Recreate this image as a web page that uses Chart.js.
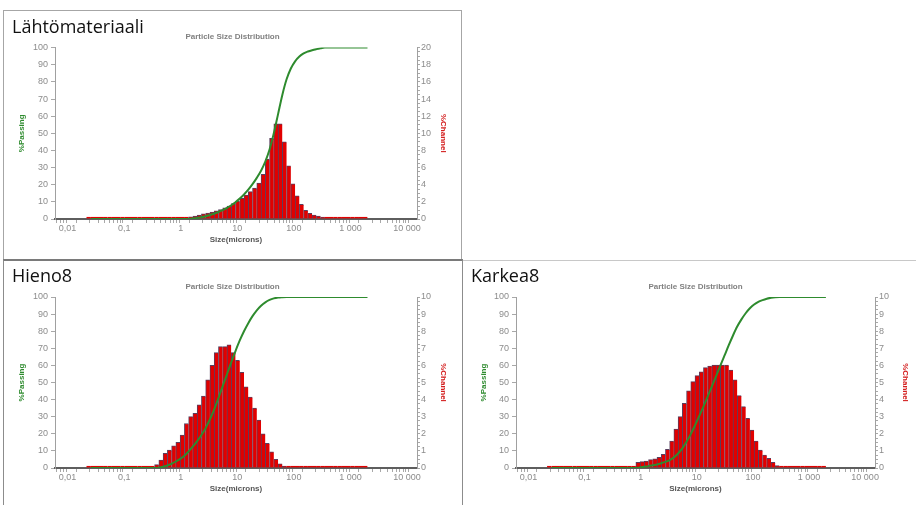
<!DOCTYPE html>
<html>
<head>
<meta charset="utf-8">
<script src="https://cdn.jsdelivr.net/npm/chart.js@4.4.1/dist/chart.umd.min.js"></script>
<style>
  html, body { margin: 0; padding: 0; background: #fff; }
  #page { position: relative; width: 916px; height: 505px; overflow: hidden; }
  .box { position: absolute; box-sizing: border-box; }
  .chart { position: absolute; }
  .name { position: absolute; font-family: 'Open Sans', sans-serif; font-size: 18px; line-height: 18px; color: #111; white-space: nowrap; }
</style>
</head>
<body>
<div id="page">
  <div class="box" style="left:3px;top:10px;width:459px;height:251px;border:1px solid #a6a6a6"></div>
  <div class="box" style="left:3px;top:259px;width:460px;height:252px;border:1px solid #8c8c8c;border-top:2px solid #7a7a7a"></div>
  <div class="box" style="left:463px;top:260px;width:453px;height:1px;background:#c8c8c8"></div>

  <canvas class="chart" id="c1" width="457" height="248" style="left:4px;top:11px"></canvas>
  <canvas class="chart" id="c2" width="457" height="243" style="left:4px;top:262px"></canvas>
  <canvas class="chart" id="c3" width="453" height="243" style="left:463px;top:262px"></canvas>

  <div class="name" style="left:12px;top:17px">Lähtömateriaali</div>
  <div class="name" style="left:12px;top:266px">Hieno8</div>
  <div class="name" style="left:471px;top:266px">Karkea8</div>
</div>
<script>
// channel edges in microns (Microtrac sizes), ascending
const sizeEdges = [0.0216, 0.026, 0.031, 0.036, 0.043, 0.051, 0.061, 0.073, 0.086, 0.103,
    0.122, 0.145, 0.173, 0.205, 0.244, 0.290, 0.345, 0.411, 0.488, 0.581,
    0.691, 0.821, 0.976, 1.161, 1.381, 1.642, 1.953, 2.323, 2.762, 3.285,
    3.906, 4.645, 5.524, 6.570, 7.813, 9.291, 11.05, 13.14, 15.63, 18.58,
    22.10, 26.28, 31.25, 37.16, 44.19, 52.56, 62.50, 74.33, 88.39, 105.1,
    125.0, 148.7, 176.8, 210.2, 250.0, 297.3, 353.6, 420.4, 500.0, 594.6,
    707.1, 840.9, 1000, 1189, 1414, 1682, 2000];

// Lähtömateriaali: first channel starts at 1.381 µm
const lahtoStart = 24;
const lahtoChannel = [0.25, 0.35, 0.45, 0.6, 0.7, 0.8, 0.95, 1.1, 1.3, 1.5,
    1.8, 2.1, 2.4, 2.8, 3.2, 3.6, 4.2, 5.2, 7.0, 9.4,
    11.1, 11.1, 9.0, 6.2, 4.1, 2.7, 1.7, 1.0, 0.65, 0.45, 0.35, 0.2];
const lahtoPassing = [0.3, 0.6, 1.0, 1.6, 2.3, 3.1, 4.1, 5.2, 6.5, 8.0,
    9.8, 11.9, 14.3, 17.1, 20.3, 24.0, 28.2, 33.5, 40.5, 50.0,
    61.2, 72.4, 81.5, 87.8, 92.0, 94.8, 96.6, 97.7, 98.5, 99.1, 99.6, 100];

// Hieno8: first channel starts at 0.345 µm
const hienoStart = 16;
const hienoChannel = [0.2, 0.47, 0.86, 1.05, 1.3, 1.5, 1.93, 2.6, 3.0, 3.2,
    3.7, 4.2, 5.15, 6.0, 6.75, 7.1, 7.1, 7.2, 6.75, 6.3,
    5.6, 4.75, 4.15, 3.5, 2.8, 2.0, 1.45, 0.95, 0.5, 0.25, 0.1];
const hienoPassing = [0.2, 0.7, 1.5, 2.5, 3.8, 5.3, 7.1, 9.7, 12.6, 15.7,
    19.3, 23.4, 28.5, 34.3, 40.9, 47.9, 54.8, 61.8, 68.4, 74.6,
    80.0, 84.7, 88.8, 92.2, 94.9, 96.9, 98.3, 99.2, 99.7, 99.9, 100];

// Karkea8: first channel starts at 0.821 µm
const karkeaStart = 21;
const karkeaChannel = [0.33, 0.37, 0.41, 0.49, 0.53, 0.62, 0.8, 1.09, 1.58, 2.28,
    3.0, 3.78, 4.52, 5.05, 5.4, 5.63, 5.87, 5.96, 6.02, 6.02,
    6.02, 6.02, 5.73, 5.15, 4.23, 3.59, 2.9, 2.22, 1.58, 1.05,
    0.76, 0.57, 0.33, 0.14];
const karkeaPassing = [0.3, 0.7, 1.1, 1.6, 2.1, 2.8, 3.6, 4.6, 6.2, 8.5,
    11.5, 15.3, 19.8, 24.9, 30.3, 35.9, 41.8, 47.7, 53.7, 59.8,
    65.8, 71.8, 77.5, 82.7, 86.9, 90.5, 93.4, 95.6, 97.2, 98.2,
    99.0, 99.6, 99.9, 100];

const xDecades = [0.01, 0.1, 1, 10, 100, 1000, 10000];
const xDecadeLabels = ['0,01', '0,1', '1', '10', '100', '1 000', '10 000'];

const GREEN = '#2e8b2e';
const RED = '#e10000';
const BAR_EDGE = '#5a3f5e';
const TICK_TEXT = '#8c8c8c';

Chart.defaults.font.family = "'Liberation Sans', Arial, sans-serif";

const X_MIN = 0.006;
const X_MAX = 15000;

function xTickValues() {
    const out = [];
    for (let e = -3; e <= 4; e++) {
        for (let m = 1; m <= 9; m++) {
            const v = Number((m * Math.pow(10, e)).toPrecision(6));
            if (v >= X_MIN && v <= X_MAX) out.push({ value: v });
        }
    }
    return out;
}

function makeChart(id, channel, passing, start, y2Max, y2Minor, y2Step, L) {
    const bars = sizeEdges.slice(0, -1).map((lo, i) => {
        const k = i - start;
        return { x: Math.sqrt(lo * sizeEdges[i + 1]), y: (k >= 0 && k < channel.length) ? channel[k] : 0 };
    });
    const line = sizeEdges.slice(1).map((hi, i) => {
        const k = i - start;
        return { x: hi, y: k < 0 ? 0 : (k < passing.length ? passing[k] : 100) };
    });

    const y2Ticks = [];
    for (let v = 0; v <= y2Max + 1e-9; v += y2Minor) y2Ticks.push({ value: Number(v.toFixed(3)) });

    new Chart(document.getElementById(id), {
        type: 'bar',
        data: {
            datasets: [
                {
                    type: 'line',
                    label: '%Passing',
                    data: line,
                    yAxisID: 'y',
                    borderColor: GREEN,
                    borderWidth: 2,
                    pointRadius: 0,
                    cubicInterpolationMode: 'monotone',
                    order: 0,
                },
                {
                    type: 'bar',
                    label: '%Channel',
                    data: bars,
                    yAxisID: 'y2',
                    backgroundColor: RED,
                    borderColor: (c) => (c.raw && c.raw.y > 0 ? BAR_EDGE : RED),
                    borderWidth: { left: 1, top: 1, right: 0, bottom: 0 },
                    minBarLength: 2,
                    barThickness: (c) => {
                        const s = c.chart.scales.x;
                        return (s.getPixelForValue(2000) - s.getPixelForValue(1000)) / 4;
                    },
                    order: 1,
                },
            ],
        },
        options: {
            responsive: false,
            animation: false,
            layout: { padding: { left: 0, right: 0, top: 0, bottom: L.padBottom } },
            plugins: {
                legend: { display: false },
                tooltip: { enabled: false },
                title: {
                    display: true,
                    text: 'Particle Size Distribution',
                    color: '#808080',
                    fullSize: L.titleFull,
                    font: { size: 8, weight: 'bold' },
                    padding: { top: L.titleTop, bottom: L.titleBottom },
                },
            },
            scales: {
                x: {
                    type: 'logarithmic',
                    position: 'bottom',
                    min: X_MIN,
                    max: X_MAX,
                    afterBuildTicks: (s) => { s.ticks = xTickValues(); },
                    afterFit: (s) => { s.height = 30; },
                    ticks: {
                        autoSkip: false,
                        maxRotation: 0,
                        padding: 0,
                        color: TICK_TEXT,
                        font: { size: 9 },
                        callback: (value) => {
                            const i = xDecades.findIndex((d) => Math.abs(d - value) / d < 1e-6);
                            return i >= 0 ? xDecadeLabels[i] : '';
                        },
                    },
                    grid: { drawOnChartArea: false, tickLength: 4, tickColor: '#a8a8a8' },
                    border: { color: '#5e5e5e', width: 2 },
                    title: {
                        display: true,
                        text: 'Size(microns)',
                        color: '#555555',
                        font: { size: 8, weight: 'bold' },
                        padding: { top: 0, bottom: 4 },
                    },
                },
                y: {
                    position: 'left',
                    min: 0,
                    max: 100,
                    afterFit: (s) => { s.width = L.leftW; },
                    ticks: { stepSize: 10, color: TICK_TEXT, font: { size: 9 }, padding: 3 },
                    grid: { drawOnChartArea: false, tickLength: 4, tickColor: '#a8a8a8' },
                    border: { color: '#a0a0a0', width: 1 },
                    title: {
                        display: true,
                        text: '%Passing',
                        color: GREEN,
                        font: { size: 8, weight: 'bold' },
                        padding: { top: L.yTitlePad, bottom: 0 },
                    },
                },
                y2: {
                    position: 'right',
                    min: 0,
                    max: y2Max,
                    afterBuildTicks: (s) => { s.ticks = y2Ticks.map((t) => ({ value: t.value })); },
                    afterFit: (s) => { s.width = L.rightW; },
                    ticks: {
                        autoSkip: false,
                        color: TICK_TEXT,
                        font: { size: 9 },
                        padding: 1,
                        callback: (v) => (Math.abs(v / y2Step - Math.round(v / y2Step)) < 1e-6 ? String(v) : ''),
                    },
                    grid: { drawOnChartArea: false, tickLength: 3, tickColor: '#a8a8a8' },
                    border: { color: '#a0a0a0', width: 1 },
                    title: {
                        display: true,
                        text: '%Channel',
                        color: '#d42020',
                        font: { size: 8, weight: 'bold' },
                        padding: { top: L.y2TitlePad, bottom: 0 },
                    },
                },
            },
        },
    });
}

makeChart('c1', lahtoChannel, lahtoPassing, lahtoStart, 20, 0.5, 2, {
    leftW: 51, rightW: 44, padBottom: 10, titleTop: 21, titleBottom: 6, titleFull: true,
    yTitlePad: 13, y2TitlePad: 13,
});
makeChart('c2', hienoChannel, hienoPassing, hienoStart, 10, 0.25, 1, {
    leftW: 51, rightW: 44, padBottom: 7, titleTop: 20, titleBottom: 5.4, titleFull: true,
    yTitlePad: 13, y2TitlePad: 13,
});
makeChart('c3', karkeaChannel, karkeaPassing, karkeaStart, 10, 0.25, 1, {
    leftW: 53, rightW: 41, padBottom: 7, titleTop: 20, titleBottom: 5.4, titleFull: false,
    yTitlePad: 16, y2TitlePad: 6,
});
</script>
</body>
</html>
